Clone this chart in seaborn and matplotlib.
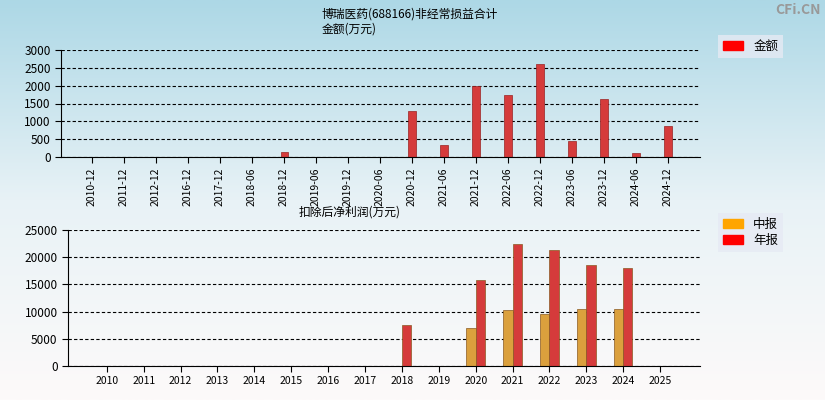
import numpy as np
import pandas as pd
import matplotlib
matplotlib.use('Agg')
import matplotlib.pyplot as plt
import seaborn as sns
from matplotlib.patches import Patch

plt.rcParams['font.family'] = ['Noto Sans CJK SC', 'DejaVu Sans']

# data
periods = ['2010-12', '2011-12', '2012-12', '2016-12', '2017-12', '2018-06', '2018-12',
           '2019-06', '2019-12', '2020-06', '2020-12', '2021-06', '2021-12', '2022-06',
           '2022-12', '2023-06', '2023-12', '2024-06', '2024-12']
amounts = [0, 0, 0, 0, 0, 0, 150, 0, 0, 0, 1280, 340, 1980, 1730, 2600, 450, 1620, 120, 880]

years = [str(y) for y in range(2010, 2026)]
mid_profit = [0, 0, 0, 0, 0, 0, 0, 0, 0, 0, 7000, 10300, 9600, 10500, 10500, 0]
annual_profit = [0, 0, 0, 0, 0, 0, 0, 0, 7500, 0, 15800, 22500, 21300, 18600, 18000, 0]

fig = plt.figure(figsize=(8.25, 4), dpi=100)
# background gradient
bg = fig.add_axes([0, 0, 1, 1], zorder=-10)
grad = np.linspace(0, 1, 256).reshape(-1, 1)
cmap = matplotlib.colors.LinearSegmentedColormap.from_list('bg', ['#add8e6', '#e8f2f6', '#fdfafa'])
bg.imshow(grad, aspect='auto', cmap=cmap, extent=[0, 1, 0, 1])
bg.axis('off')

def style(ax):
    ax.set_facecolor('none')
    for s in ['top', 'right']:
        ax.spines[s].set_visible(False)
    ax.grid(axis='y', color='black', linestyle='--', linewidth=0.8, dashes=(3, 2))
    ax.set_axisbelow(True)
    ax.set_xlabel('')
    ax.set_ylabel('')
    ax.tick_params(labelsize=8.5, length=4)

# top chart
ax1 = fig.add_axes([61/825, 1-157/400, 639/825, 107/400])
df1 = pd.DataFrame({'period': periods, 'amount': amounts})
sns.barplot(data=df1, x='period', y='amount', color='#ee2222', width=0.22,
            edgecolor='#992222', linewidth=0.5, ax=ax1)
style(ax1)
ax1.set_ylim(0, 3000)
ax1.set_yticks(range(0, 3001, 500))
ax1.set_xlim(-0.97, 19.0)
ax1.tick_params(axis='x', labelrotation=90, labelsize=7.5)
fig.text(0.497, 0.955, '博瑞医药(688166)非经常损益合计', ha='center', fontsize=8.5)
fig.text(0.39, 0.918, '金额(万元)', fontsize=8.5)
leg1 = ax1.legend(handles=[Patch(color='red', label='金额')], loc='upper left',
                  bbox_to_anchor=((712-61)/639, 1.2), fontsize=9, frameon=True,
                  fancybox=False, edgecolor='none', handlelength=1.6)
leg1.get_frame().set_facecolor('#e6eaf4')

# bottom chart
ax2 = fig.add_axes([68/825, 1-366/400, 632/825, 136/400])
df2 = pd.DataFrame({'year': years * 2,
                    'value': mid_profit + annual_profit,
                    'kind': ['中报'] * len(years) + ['年报'] * len(years)})
sns.barplot(data=df2, x='year', y='value', hue='kind', palette=['#f5a623', '#ee2222'],
            width=0.5, edgecolor='#8a5a22', linewidth=0.5, ax=ax2, legend=False)
style(ax2)
ax2.set_ylim(0, 25000)
ax2.set_yticks(range(0, 25001, 5000))
ax2.set_xlim(-1.05, 16.08)
ax2.tick_params(axis='x', labelsize=7.5)
fig.text(0.424, 0.462, '扣除后净利润(万元)', ha='center', fontsize=8.5)
leg2 = ax2.legend(handles=[Patch(color='orange', label='中报'), Patch(color='red', label='年报')],
                  loc='upper left', bbox_to_anchor=(644/632, 1.17), fontsize=9, frameon=True,
                  fancybox=False, edgecolor='none', handlelength=1.6, labelspacing=0.2)
leg2.get_frame().set_facecolor('#e6eaf4')

fig.text(0.995, 0.965, 'CFi.CN', ha='right', fontsize=10, color='#999999', fontweight='bold')

fig.savefig('out.png', dpi=100)
